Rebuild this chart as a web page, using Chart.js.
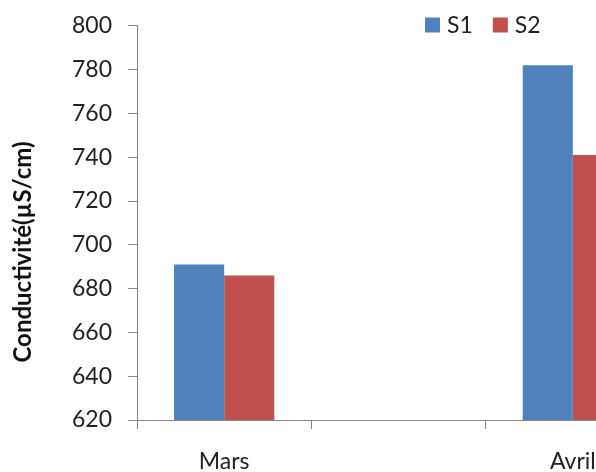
<!DOCTYPE html>
<html>
<head>
<meta charset="utf-8">
<script src="https://cdn.jsdelivr.net/npm/chart.js@4/dist/chart.umd.min.js"></script>
<style>
  html, body { margin: 0; padding: 0; background: #fff; overflow: hidden; }
  #wrap { width: 596px; height: 472px; overflow: hidden; position: relative; }
  #box { width: 664px; height: 484px; position: absolute; left: 0; top: -4px; }
</style>
</head>
<body>
<div id="wrap"><div id="box"><canvas id="c"></canvas></div></div>
<script>
// Months on the category axis (the middle slot is an empty spacer month)
const months = ['Mars', '', 'Avril'];
// Conductivity per station, µS/cm
const s1 = [691, null, 782];
const s2 = [686, null, 741];
const seriesNames = ['S1', 'S2'];
const seriesColors = ['#4F81BD', '#C0504D'];
// Value axis range
const yMin = 620, yMax = 800, yStep = 20;
const yTitle = 'Conductivité(µS/cm)';

const axisGray = '#868686';
const fontFamily = 'Lato, "Open Sans", sans-serif';

// Small legend drawn in the top-right corner over the plot
const cornerLegend = {
  id: 'cornerLegend',
  afterDraw(chart, args, opts) {
    const ctx = chart.ctx;
    ctx.save();
    ctx.font = opts.fontSize + 'px ' + fontFamily;
    ctx.textBaseline = 'middle';
    ctx.textAlign = 'left';
    let x = opts.x;
    chart.data.datasets.forEach(ds => {
      ctx.fillStyle = ds.backgroundColor;
      ctx.fillRect(x, opts.y - opts.box / 2, opts.box, opts.box);
      x += opts.box + opts.gap;
      ctx.fillStyle = '#222';
      ctx.fillText(ds.label, x, opts.y + 1);
      x += ctx.measureText(ds.label).width + opts.itemGap;
    });
    ctx.restore();
  }
};

// Rotated value-axis title, placed slightly below the plot's middle
const sideTitle = {
  id: 'sideTitle',
  afterDraw(chart, args, opts) {
    const ctx = chart.ctx;
    ctx.save();
    ctx.translate(opts.x, opts.y);
    ctx.rotate(-Math.PI / 2);
    ctx.font = 'bold ' + opts.fontSize + 'px ' + fontFamily;
    ctx.fillStyle = '#111';
    ctx.textAlign = 'center';
    ctx.textBaseline = 'middle';
    ctx.fillText(opts.text, 0, 0);
    ctx.restore();
  }
};

new Chart(document.getElementById('c'), {
  type: 'bar',
  data: {
    labels: months,
    datasets: [
      { label: seriesNames[0], data: s1, backgroundColor: seriesColors[0] },
      { label: seriesNames[1], data: s2, backgroundColor: seriesColors[1] }
    ]
  },
  options: {
    responsive: true,
    maintainAspectRatio: false,
    animation: false,
    layout: { padding: { top: 5, right: 4, left: 0, bottom: 0 } },
    datasets: { bar: { categoryPercentage: 0.575, barPercentage: 1.0 } },
    plugins: {
      legend: { display: false },
      tooltip: { enabled: false },
      cornerLegend: { x: 425, y: 29, box: 15, gap: 7, itemGap: 20, fontSize: 23 },
      sideTitle: { text: yTitle, x: 23, y: 256, fontSize: 24 }
    },
    scales: {
      x: {
        offset: true,
        grid: { display: true, drawOnChartArea: false, offset: true, tickLength: 9, color: axisGray, lineWidth: 1 },
        border: { display: true, color: axisGray, width: 1 },
        ticks: { font: { family: fontFamily, size: 23 }, color: '#222', padding: 19, maxRotation: 0, autoSkip: false },
        afterFit(scale) { scale.height = 60; }
      },
      y: {
        min: yMin,
        max: yMax,
        ticks: { stepSize: yStep, font: { family: fontFamily, size: 23 }, color: '#222', padding: 16 },
        grid: { display: true, drawOnChartArea: false, tickLength: 9, color: axisGray, lineWidth: 1 },
        border: { display: true, color: axisGray, width: 1 },
        afterFit(scale) { scale.width = 137; }
      }
    }
  },
  plugins: [cornerLegend, sideTitle]
});
</script>
</body>
</html>
